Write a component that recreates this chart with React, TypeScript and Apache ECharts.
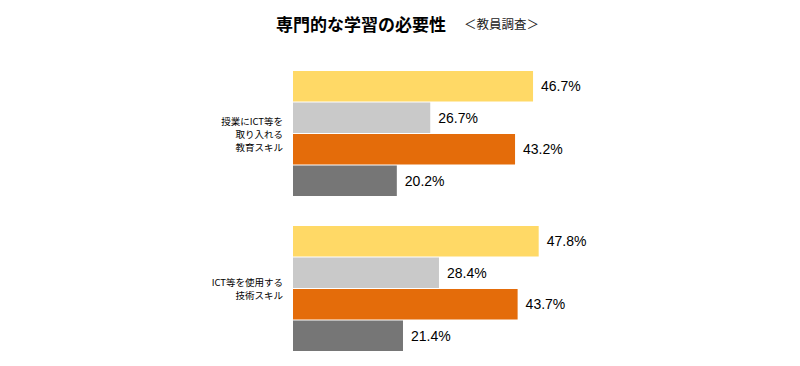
import React, { useEffect, useRef } from "react";
import * as echarts from "echarts";

const categories = ["授業にICT等を\n取り入れる\n教育スキル", "ICT等を使用する\n技術スキル"];
const seriesNames = ["系列1", "系列2", "系列3", "系列4"];
const seriesValues = [
  [46.7, 47.8],
  [26.7, 28.4],
  [43.2, 43.7],
  [20.2, 21.4],
];
const colors = ["#FFD966", "#C9C9C9", "#E46C0A", "#767676"];

export default function App() {
  const ref = useRef<HTMLDivElement>(null);
  useEffect(() => {
    if (!ref.current) return;
    const chart = echarts.init(ref.current, null, { renderer: "svg" });
    chart.setOption({
      animation: false,
      backgroundColor: "#ffffff",
      title: {
        left: 271,
        top: 10,
        text: "{a|専門的な学習の必要性}{b|＜教員調査＞}",
        textStyle: {
          rich: {
            a: {
              fontFamily: "Noto Sans CJK JP",
              fontWeight: "bold",
              fontSize: 17,
              color: "#000",
            },
            b: {
              fontFamily: "Noto Sans CJK JP",
              fontWeight: "normal",
              fontSize: 12.5,
              color: "#222",
              padding: [0, 0, 0, 18],
            },
          },
        },
      },
      grid: { left: 293, top: 56, width: 462.6, height: 314, containLabel: false },
      xAxis: {
        type: "value",
        min: 0,
        max: 90,
        show: false,
      },
      yAxis: {
        type: "category",
        data: categories,
        inverse: true,
        axisLine: { show: false },
        axisTick: { show: false },
        axisLabel: {
          margin: 10,
          fontSize: 9.5,
          lineHeight: 13,
          color: "#000",
          align: "right",
          fontFamily: "Noto Sans CJK JP",
        },
      },
      series: seriesNames.map((name, i) => ({
        name,
        type: "bar",
        data: seriesValues[i],
        barWidth: 30.5,
        barGap: "3.3%",
        itemStyle: { color: colors[i] },
        label: {
          show: true,
          position: "right",
          distance: 8,
          formatter: (p: any) => p.value.toFixed(1) + "%",
          fontSize: 14,
          color: "#000",
          fontFamily: "Liberation Sans",
        },
      })),
    });
    return () => chart.dispose();
  }, []);
  return (
    <div
      ref={ref}
      style={{ position: "fixed", left: 0, top: 0, width: 800, height: 366 }}
    />
  );
}
